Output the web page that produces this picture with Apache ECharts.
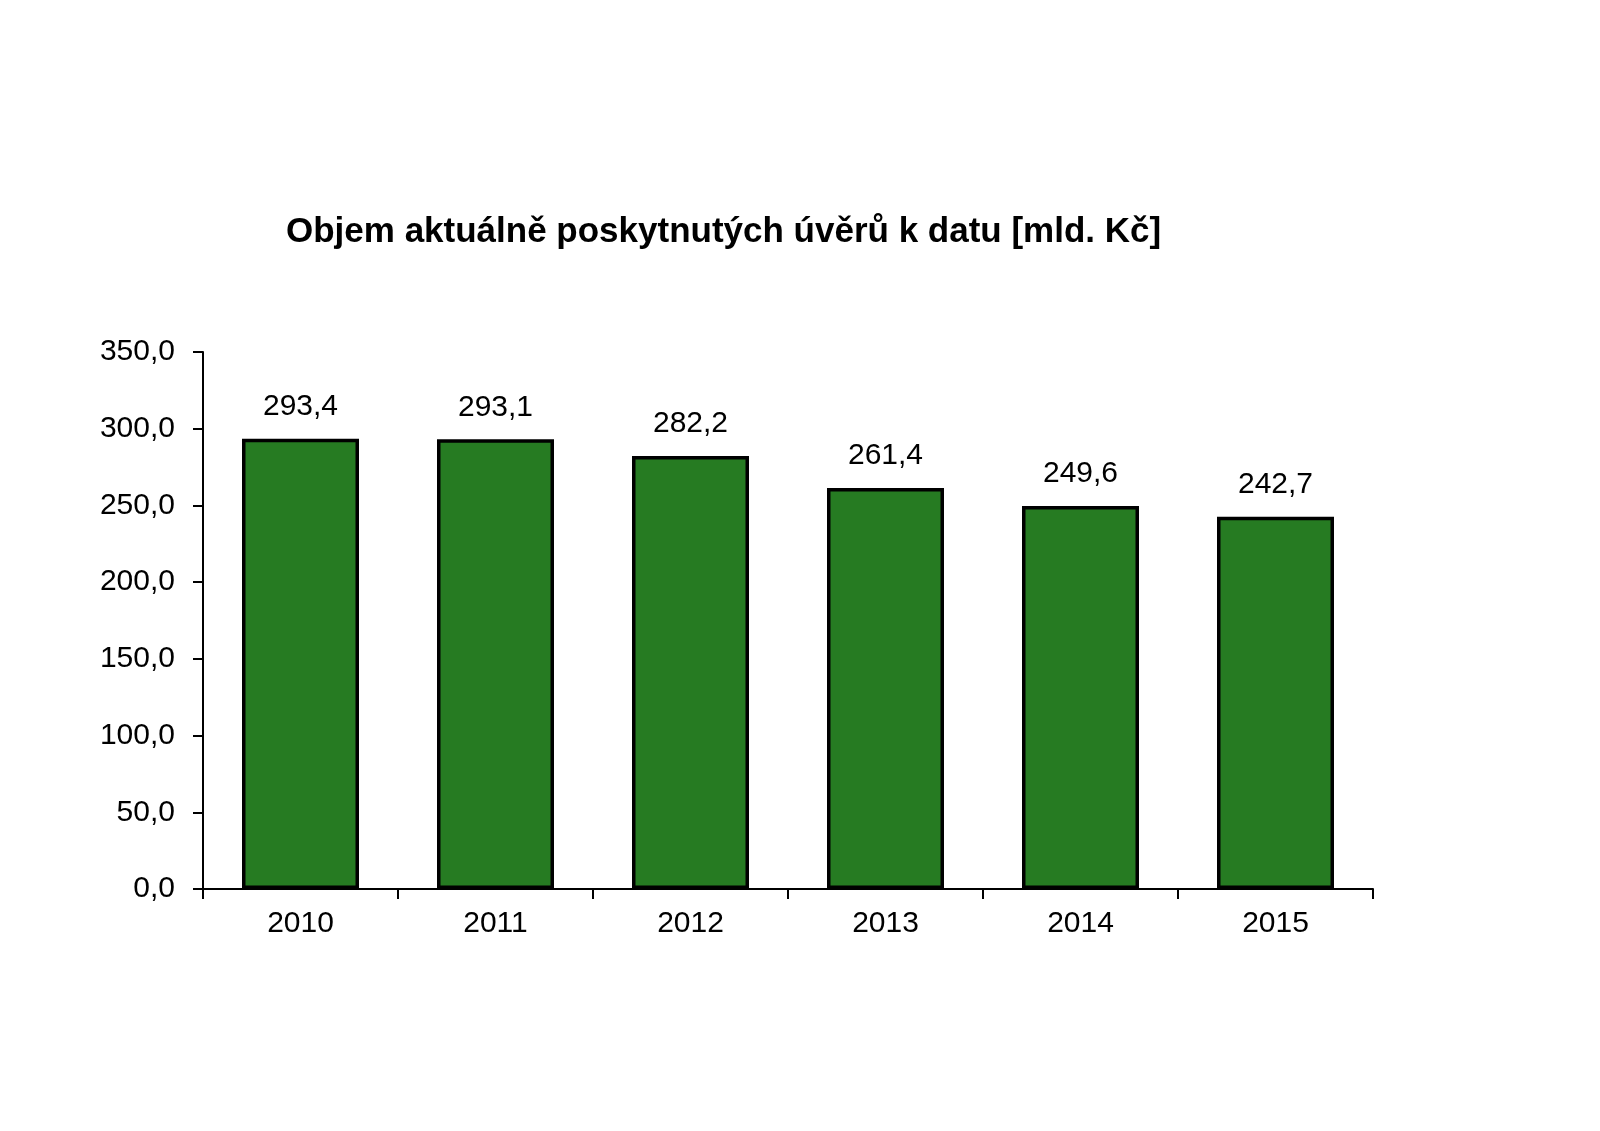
<!DOCTYPE html>
<html>
<head>
    <meta charset="utf-8" />
    <title>Objem aktuálně poskytnutých úvěrů</title>
    <script src="https://cdn.jsdelivr.net/npm/echarts@6/dist/echarts.min.js"></script>
    <style>
        html, body { margin: 0; padding: 0; background: #fff; }
        #chart { width: 1600px; height: 1131px; }
    </style>
</head>
<body>
    <div id="chart"></div>
    <script type="text/javascript">
        // data
        var years = ['2010', '2011', '2012', '2013', '2014', '2015'];
        var volumes = [293.4, 293.1, 282.2, 261.4, 249.6, 242.7];

        function czNum(v) {
            return Number(v).toFixed(1).replace('.', ',');
        }

        var chart = echarts.init(document.getElementById('chart'));
        chart.setOption({
            animation: false,
            textStyle: { fontFamily: 'Liberation Sans, Arial, sans-serif' },
            title: {
                text: 'Objem aktuálně poskytnutých úvěrů k datu [mld. Kč]',
                left: 286,
                top: 215,
                padding: 0,
                textStyle: { fontSize: 35, fontWeight: 'bold', color: '#000' }
            },
            grid: { left: 203, right: 227, top: 352, bottom: 242, containLabel: false },
            xAxis: {
                type: 'category',
                data: years,
                axisLine: { lineStyle: { color: '#000', width: 2 } },
                axisTick: { show: true, length: 10, lineStyle: { color: '#000', width: 2 } },
                axisLabel: { color: '#000', fontSize: 30, margin: 20 }
            },
            yAxis: {
                type: 'value',
                min: 0,
                max: 350,
                interval: 50,
                axisLine: { show: true, lineStyle: { color: '#000', width: 2 } },
                axisTick: { show: true, length: 10, lineStyle: { color: '#000', width: 2 } },
                splitLine: { show: false },
                axisLabel: { color: '#000', fontSize: 30, margin: 28, formatter: czNum }
            },
            series: [{
                type: 'bar',
                data: volumes,
                barCategoryGap: '40%',
                itemStyle: { color: '#267b22', borderColor: '#000', borderWidth: 3.5 },
                label: {
                    show: true,
                    position: 'top',
                    distance: 17,
                    color: '#000',
                    fontSize: 30,
                    formatter: function (p) { return czNum(p.value); }
                }
            }]
        });
    </script>
</body>
</html>
